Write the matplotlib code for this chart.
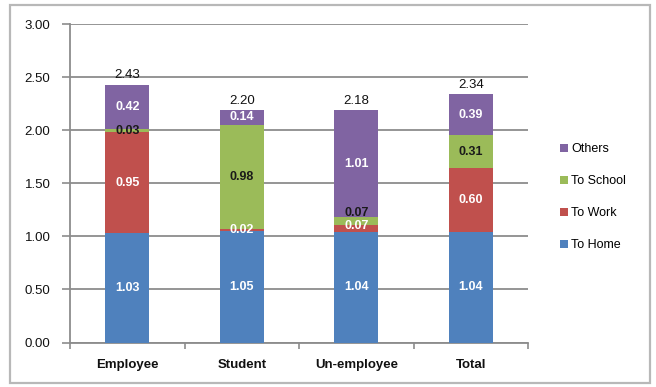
import matplotlib
matplotlib.use("Agg")
import matplotlib.pyplot as plt
from matplotlib.patches import Rectangle
import numpy as np

plt.rcParams['font.family'] = ['Liberation Sans', 'DejaVu Sans']

categories = ["Employee", "Student", "Un-employee", "Total"]
to_home = [1.03, 1.05, 1.04, 1.04]
to_work = [0.95, 0.02, 0.07, 0.60]
to_school = [0.03, 0.98, 0.07, 0.31]
others = [0.42, 0.14, 1.01, 0.39]
totals = [2.43, 2.20, 2.18, 2.34]
y_ticks = [0.0, 0.5, 1.0, 1.5, 2.0, 2.5, 3.0]

series = [
    ("To Home", to_home, "#4F81BD", "white"),
    ("To Work", to_work, "#C0504D", "white"),
    ("To School", to_school, "#9BBB59", "#1a1a1a"),
    ("Others", others, "#8064A2", "white"),
]

# vertical nudges (data units) for labels of thin, adjacent segments
label_nudge = {("To Work", 2): 0.02, ("To School", 2): 0.075}

fig = plt.figure(figsize=(6.56, 3.87), dpi=100)
ax = fig.add_axes([70 / 656, 1 - 342.5 / 387, 458 / 656, 318.5 / 387])

# outer chart frame
fig.patches.append(Rectangle((10 / 656, 1 - 383 / 387), 640 / 656, 378 / 387,
                             transform=fig.transFigure, fill=False,
                             edgecolor="#b8b8b8", linewidth=1.6, zorder=0))

x = np.arange(len(categories)) + 0.5
width = 0.385
bottom = np.zeros(len(categories))
handles = []
for name, vals, color, tcolor in series:
    vals = np.array(vals)
    bars = ax.bar(x, vals, width, bottom=bottom, color=color, label=name, zorder=3)
    handles.append(bars)
    for i, (xi, b, v) in enumerate(zip(x, bottom, vals)):
        yc = b + v / 2 + label_nudge.get((name, i), 0.0)
        ax.text(xi, yc, f"{v:.2f}", ha="center", va="center", color=tcolor,
                fontsize=9, fontweight="bold", zorder=4)
    bottom = bottom + vals

for xi, b, t in zip(x, bottom, totals):
    ax.text(xi, b + 0.03, f"{t:.2f}", ha="center", va="bottom", color="#111111",
            fontsize=9.5, zorder=4)

ax.set_xlim(0, 4)
ax.set_ylim(0, 3.0)
ax.set_yticks(y_ticks)
ax.set_yticklabels([f"{v:.2f}" for v in y_ticks], fontsize=9.5, color="#111111")
ax.yaxis.grid(True, color="#8c8c8c", linewidth=1.3, zorder=0)
ax.set_axisbelow(True)

ax.set_xticks([0, 1, 2, 3, 4])
ax.set_xticklabels([])
ax.set_xticks(x, minor=True)
ax.set_xticklabels(categories, minor=True, fontsize=9.5, fontweight="bold",
                   color="#111111")
ax.tick_params(axis="x", which="minor", length=0, pad=12)
ax.tick_params(axis="x", which="major", length=4, color="#8c8c8c", width=1.2)
ax.tick_params(axis="y", length=6, color="#8c8c8c", width=1.2, pad=8)

for side in ("top", "right"):
    ax.spines[side].set_visible(False)
for side in ("left", "bottom"):
    ax.spines[side].set_color("#8c8c8c")
    ax.spines[side].set_linewidth(1.3)

leg = fig.legend(handles[::-1], [s[0] for s in series][::-1],
                 loc="upper left", bbox_to_anchor=(555 / 656, 1 - 138 / 387),
                 frameon=False, fontsize=9, handlelength=0.6, handleheight=0.6,
                 handletextpad=0.3, labelspacing=1.6, borderaxespad=0)

fig.savefig("out.png", dpi=100)
